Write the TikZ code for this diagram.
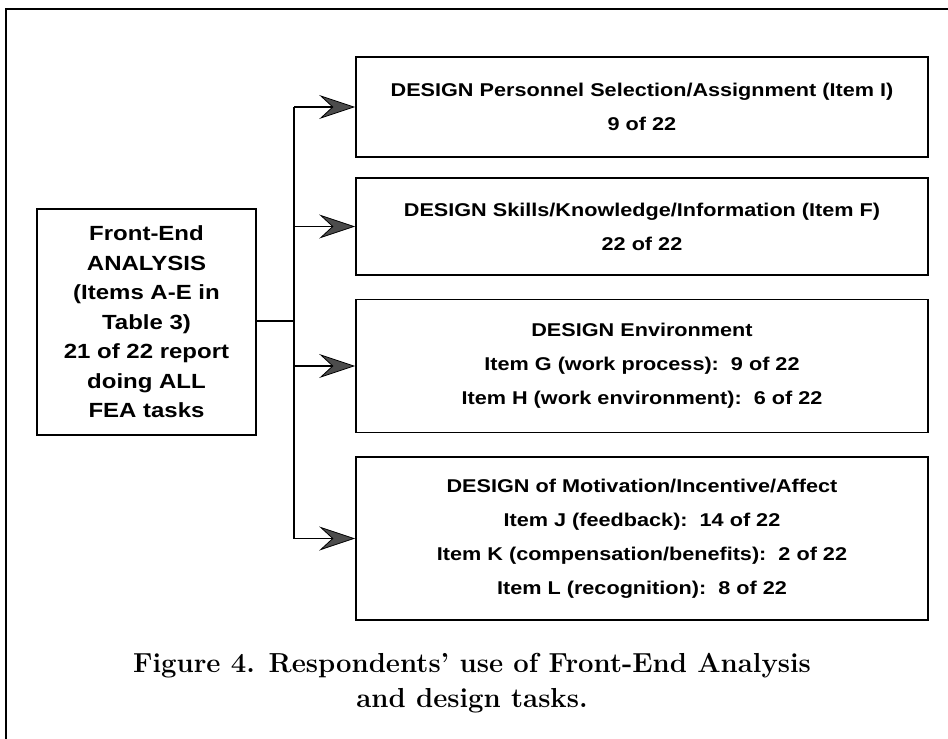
\documentclass[tikz,border=0pt]{standalone}
\usepackage{fontspec}
\setsansfont{Liberation Sans}[FakeStretch=1.17]
\usetikzlibrary{arrows.meta}
\tikzset{
  box/.style={draw=black, line width=1.6pt, inner sep=0pt, align=center,
    font=\sffamily\bfseries\fontsize{18.5}{34}\selectfont},
  link/.style={draw=black, line width=1.3pt},
  arr/.style={link, -{Stealth[length=36pt, width=24pt, inset=13pt, fill=black!70, line width=0.8pt]}},
  captext/.style={font=\bfseries\fontsize{27.5}{35}\selectfont, align=center, inner sep=0pt}
}
\begin{document}
\begin{tikzpicture}[x=1pt,y=-1pt]
\useasboundingbox (0,0) rectangle (948,739);
\draw[line width=1.2pt] (6,739) -- (6,9) -- (948,9);
\node[box, minimum width=219pt, minimum height=226pt,
  font=\sffamily\bfseries\fontsize{20.5}{29.5}\selectfont] (fea) at (146.5,322)
  {Front-End\\ANALYSIS\\(Items A-E in\\Table 3)\\21 of 22 report\\doing ALL\\FEA tasks};
\node[box, minimum width=572pt, minimum height=100pt] (b1) at (642,107)
  {DESIGN Personnel Selection/Assignment (Item I)\\9 of 22};
\node[box, minimum width=572pt, minimum height=97pt] (b2) at (642,226.5)
  {DESIGN Skills/Knowledge/Information (Item F)\\22 of 22};
\node[box, minimum width=572pt, minimum height=133pt] (b3) at (642,366)
  {DESIGN Environment\\Item G (work process):\ \ 9 of 22\\Item H (work environment):\ \ 6 of 22};
\node[box, minimum width=572pt, minimum height=163pt] (b4) at (642,538.5)
  {DESIGN of Motivation/Incentive/Affect\\Item J (feedback):\ \ 14 of 22\\Item K (compensation/benefits):\ \ 2 of 22\\Item L (recognition):\ \ 8 of 22};
\coordinate (jn) at (294,321);
\draw[link] (fea.east |- jn) -- (jn);
\draw[link] (jn |- b1.west) -- (jn |- b4.west);
\draw[arr] (jn |- b1.west) -- (b1.west);
\draw[arr] (jn |- b2.west) -- (b2.west);
\draw[arr] (jn |- b3.west) -- (b3.west);
\draw[arr] (jn |- b4.west) -- (b4.west);
\node[captext] (caption) at (472,683) {Figure 4. Respondents' use of Front-End Analysis\\and design tasks.};
\end{tikzpicture}
\end{document}
